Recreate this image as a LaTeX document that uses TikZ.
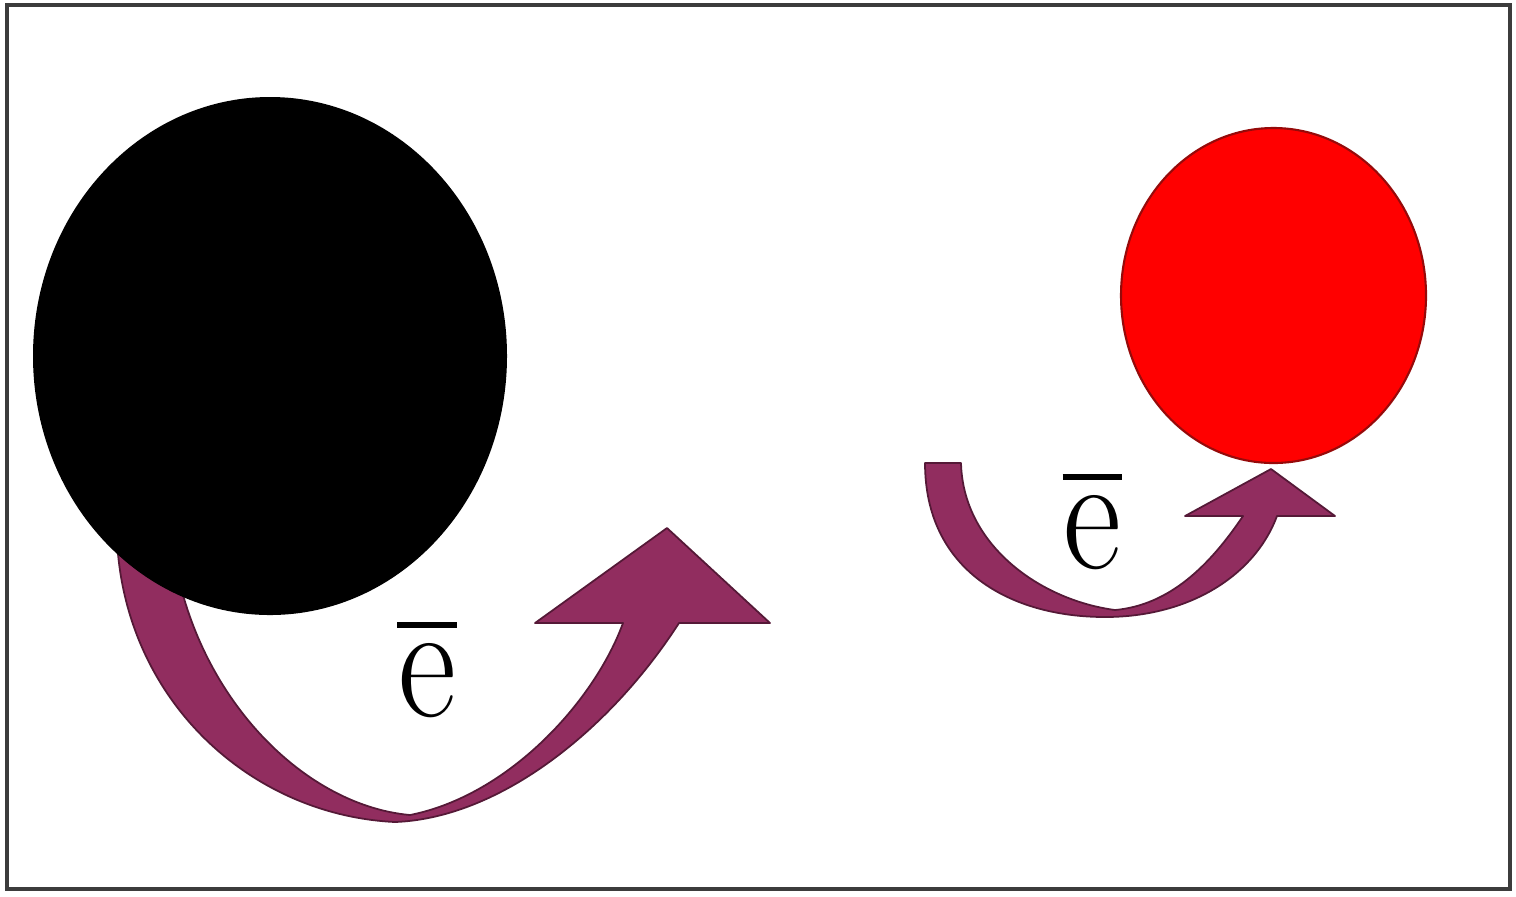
\documentclass[tikz,border=0pt]{standalone}
\usepackage{graphicx}
\usepackage{tikz}
\definecolor{hopfill}{RGB}{145,45,95}
\definecolor{hopedge}{RGB}{85,25,55}
\definecolor{ionred}{RGB}{255,0,0}
\definecolor{ionedge}{RGB}{150,10,10}
\definecolor{frame}{RGB}{60,60,60}
\newcommand{\ebar}{\ooalign{\scalebox{0.86}[1]{\rmfamily e}\cr\hidewidth\raisebox{0.88cm}{\rule{0.59cm}{0.055cm}}\hidewidth\cr}}

\begin{document}
\begin{tikzpicture}[x=0.01cm, y=-0.01cm,
    hoparrow/.style={fill=hopfill, draw=hopedge, line width=0.5pt, line join=round},
    charge/.style={anchor=base, inner sep=0pt, font=\fontsize{47}{52}\selectfont}]
    \useasboundingbox (0,0) rectangle (1516,896);

    % Frame
    \draw[frame, line width=1.1pt] (7,5) rectangle (1510,889);

    % Big jump (drawn first, tail hides under the black ion)
    \draw[hoparrow] (117,540) .. controls (125,700) and (250,815) .. (395,822)
        .. controls (500,818) and (610,730) .. (679,623)
        -- (770,623) -- (667,528) -- (535,623) -- (623,623)
        .. controls (595,700) and (510,795) .. (410,815)
        .. controls (300,805) and (190,690) .. (172,540) -- cycle;

    % Ions
    \fill[black] (270,356) ellipse [x radius=237, y radius=259];
    \draw[hoparrow] (925,463) .. controls (925,570) and (1010,617) .. (1105,617)
        .. controls (1190,617) and (1255,575) .. (1277,516)
        -- (1335,516) -- (1271,469) -- (1185,516) -- (1243,516)
        .. controls (1210,565) and (1170,605) .. (1115,610)
        .. controls (1040,600) and (963,545) .. (961,463) -- cycle;
    \draw[fill=ionred, draw=ionedge, line width=0.6pt] (1273.5,295.5) ellipse [x radius=152.5, y radius=167.5];

    % Labels
    \node[charge] (ebarbig) at (427,716) {\ebar};
    \node[charge] (ebarsmall) at (1092,568) {\ebar};
\end{tikzpicture}
\end{document}
